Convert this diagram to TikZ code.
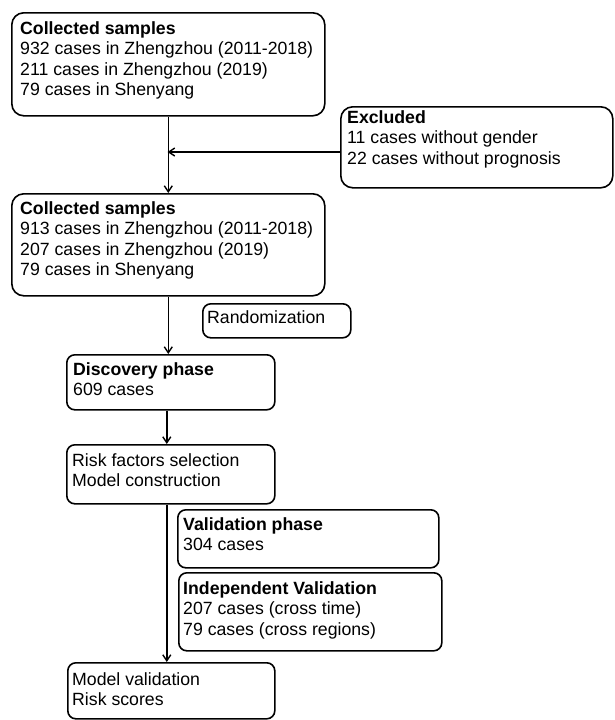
\documentclass[tikz,border=0pt]{standalone}
\usepackage{fontspec}
\setmainfont{Liberation Sans}
\usetikzlibrary{arrows.meta,calc}
\tikzset{
  boxbig/.style={draw, line width=1.6pt, rounded corners=12pt, anchor=north west, inner sep=0pt},
  boxsmall/.style={draw, line width=1.6pt, rounded corners=8pt, anchor=north west, inner sep=0pt},
  txt/.style={anchor=base west, inner sep=0pt, font=\fontsize{17.7}{20.5}\selectfont},
  arr/.style={line width=1.4pt, -{Straight Barb[length=6pt,width=8pt,line width=1.4pt]}},
  lin/.style={line width=1.4pt}
}
\newcommand{\lines}[1]{\parbox[t]{320pt}{\raggedright #1}}
\begin{document}
\begin{tikzpicture}[x=1pt,y=-1pt]
\useasboundingbox (0,0) rectangle (615,720);
% boxes
\node[boxbig, minimum width=313pt, minimum height=103pt] (b1) at (11,12) {};
\node[boxbig, minimum width=272pt, minimum height=81pt] (ex) at (340,106) {};
\node[boxbig, minimum width=313pt, minimum height=102pt] (b2) at (11,193) {};
\node[boxsmall, minimum width=148pt, minimum height=34pt] (rd) at (202,303) {};
\node[boxsmall, minimum width=208pt, minimum height=55pt] (dc) at (66,354) {};
\node[boxsmall, minimum width=208pt, minimum height=59pt] (rk) at (66,444) {};
\node[boxsmall, minimum width=261pt, minimum height=58pt] (vp) at (177,509) {};
\node[boxsmall, minimum width=263pt, minimum height=78pt] (iv) at (178,572) {};
\node[boxsmall, minimum width=207pt, minimum height=56pt] (mv) at (67,662) {};
% texts
\node[txt] (t1) at (20,34) {\lines{\textbf{Collected samples}\\932 cases in Zhengzhou (2011-2018)\\211 cases in Zhengzhou (2019)\\79 cases in Shenyang}};
\node[txt] (tex) at (347,123) {\lines{\textbf{Excluded}\\11 cases without gender\\22 cases without prognosis}};
\node[txt] (t2) at (20,214) {\lines{\textbf{Collected samples}\\913 cases in Zhengzhou (2011-2018)\\207 cases in Zhengzhou (2019)\\79 cases in Shenyang}};
\node[txt] (trd) at (207,323) {Randomization};
\node[txt] (tdc) at (73,375) {\lines{\textbf{Discovery phase}\\609 cases}};
\node[txt] (trk) at (72,466) {\lines{Risk factors selection\\Model construction}};
\node[txt] (tvp) at (183,530) {\lines{\textbf{Validation phase}\\304 cases}};
\node[txt] (tiv) at (183,594) {\lines{\textbf{Independent Validation}\\207 cases (cross time)\\79 cases (cross regions)}};
\node[txt] (tmv) at (72,685) {\lines{Model validation\\Risk scores}};
% connectors
\coordinate (j) at (167.5,152);
\draw[arr] (b1.south) -- (b2.north);
\draw[arr] (ex.west |- j) -- (j);
\draw[arr] (b2.south) -- (b2.south |- dc.north);
\draw[arr] ([xshift=-4pt]dc.south) -- ([xshift=-4pt]rk.north);
\draw[arr] ([xshift=-4pt]rk.south) -- ([xshift=-4pt]rk.south |- mv.north);
\end{tikzpicture}
\end{document}
